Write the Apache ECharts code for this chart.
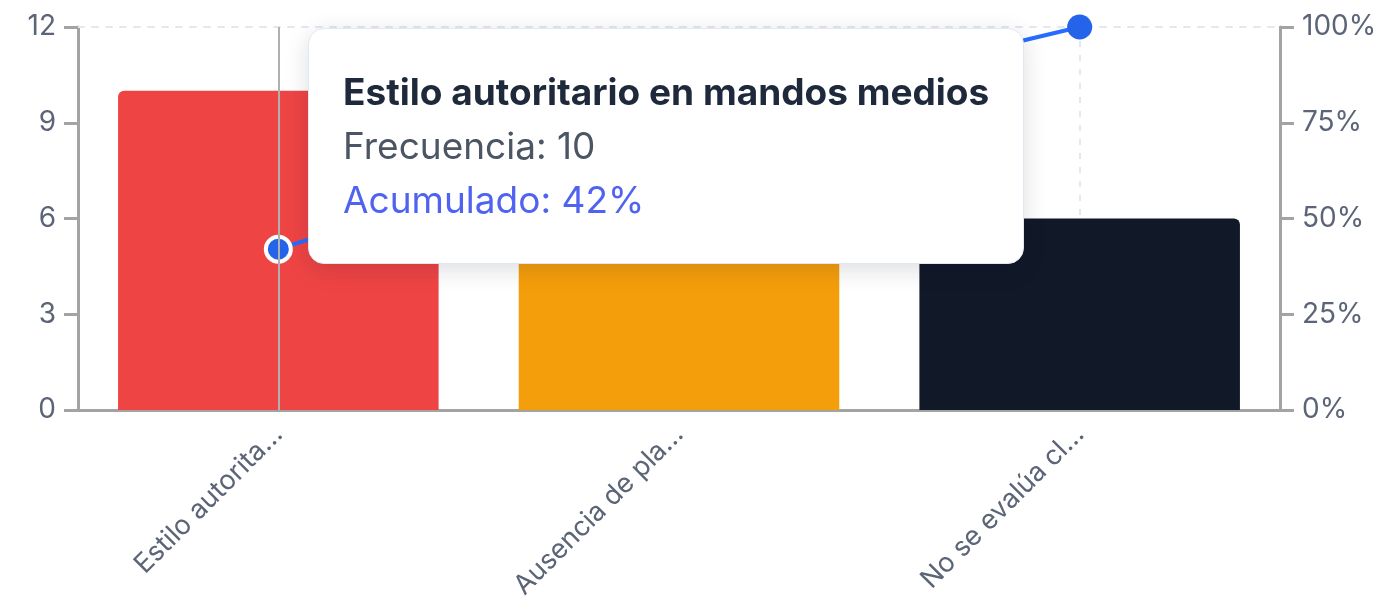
<!DOCTYPE html>
<html>
<head>
<meta charset="utf-8">
<script src="https://cdn.jsdelivr.net/npm/echarts@6/dist/echarts.min.js"></script>
<style>
  html, body { margin: 0; padding: 0; background: #fff; }
  #chart { width: 1384px; height: 605px; }
</style>
</head>
<body>
<div id="chart"></div>
<script>
// datos del pareto
var categorias = [
  'Estilo autoritario en mandos medios',
  'Ausencia de planificación estratégica',
  'No se evalúa clima laboral'
];
var frecuencias = [10, 8, 6];
var acumulado = [42, 75, 100];
var colores = ['#ef4444', '#f59e0b', '#111827'];

var chartDom = document.getElementById('chart');
var myChart = echarts.init(chartDom);
var fuente = 'Inter, "Noto Sans", sans-serif';
var gris = '#a3a3a3';
var textoEje = '#5b6577';

var option = {
  animation: false,
  textStyle: { fontFamily: fuente },
  grid: { left: 78, right: 104, top: 27, bottom: 195 },
  tooltip: {
    trigger: 'axis',
    alwaysShowContent: true,
    position: function () { return [308, 28]; },
    backgroundColor: '#fff',
    borderColor: '#e2e8f0',
    borderWidth: 1,
    padding: [36, 34],
    extraCssText: 'border-radius:16px;box-shadow:0 6px 24px rgba(15,23,42,0.14);',
    axisPointer: {
      type: 'line',
      lineStyle: { color: '#b0b0b0', width: 2, type: 'solid' }
    },
    formatter: function (params) {
      var i = params[0].dataIndex;
      return '<div style="font-family:' + fuente.replace(/"/g, "'") + ';line-height:54px;font-size:37px;">' +
        '<div style="font-weight:700;color:#1e293b;">' + categorias[i] + '</div>' +
        '<div style="color:#4b5563;">Frecuencia: ' + frecuencias[i] + '</div>' +
        '<div style="color:#4f63f0;">Acumulado: ' + acumulado[i] + '%</div>' +
        '</div>';
    }
  },
  xAxis: [{
    type: 'category',
    data: categorias,
    axisLine: { lineStyle: { color: gris, width: 3 } },
    axisTick: { alignWithLabel: true, length: 14, lineStyle: { color: '#7a7a7a', width: 2 } },
    axisLabel: {
      rotate: 45,
      margin: 20,
      color: textoEje,
      fontSize: 27,
      interval: 0,
      formatter: function (v) { return v.length > 15 ? v.slice(0, 15) + '...' : v; }
    },
    splitLine: { show: true, alignWithLabel: true, lineStyle: { color: '#e2e8f0', width: 2, type: [6, 8] } }
  }, {
    type: 'category',
    position: 'top',
    data: categorias,
    axisLine: { show: true, onZero: false, lineStyle: { color: '#e2e8f0', width: 2, type: [6, 8] } },
    axisTick: { show: false },
    axisLabel: { show: false },
    splitLine: { show: false }
  }],
  yAxis: [{
    type: 'value',
    min: 0,
    max: 12,
    interval: 3,
    axisLine: { show: true, lineStyle: { color: gris, width: 3 } },
    axisTick: { show: true, length: 14, lineStyle: { color: gris, width: 3 } },
    axisLabel: { color: textoEje, fontSize: 28, margin: 22 },
    splitLine: { show: false }
  }, {
    type: 'value',
    min: 0,
    max: 100,
    interval: 25,
    position: 'right',
    axisLine: { show: true, lineStyle: { color: gris, width: 3 } },
    axisTick: { show: true, length: 14, lineStyle: { color: gris, width: 3 } },
    axisLabel: { color: textoEje, fontSize: 28, margin: 22, formatter: '{value}%' },
    splitLine: { show: false }
  }],
  series: [{
    name: 'Frecuencia',
    type: 'bar',
    barWidth: '80%',
    data: frecuencias.map(function (v, i) {
      return { value: v, itemStyle: { color: colores[i] } };
    }),
    itemStyle: { borderRadius: [6, 6, 0, 0] },
    emphasis: { disabled: true }
  }, {
    name: 'Acumulado',
    type: 'line',
    yAxisIndex: 1,
    data: acumulado,
    symbol: 'circle',
    symbolSize: 25,
    lineStyle: { color: '#2563eb', width: 4 },
    itemStyle: { color: '#2563eb' },
    emphasis: {
      scale: false,
      itemStyle: { color: '#2563eb', borderColor: '#fff', borderWidth: 4 }
    }
  }]
};

option && myChart.setOption(option);
myChart.dispatchAction({ type: 'showTip', seriesIndex: 1, dataIndex: 0 });
</script>
</body>
</html>
